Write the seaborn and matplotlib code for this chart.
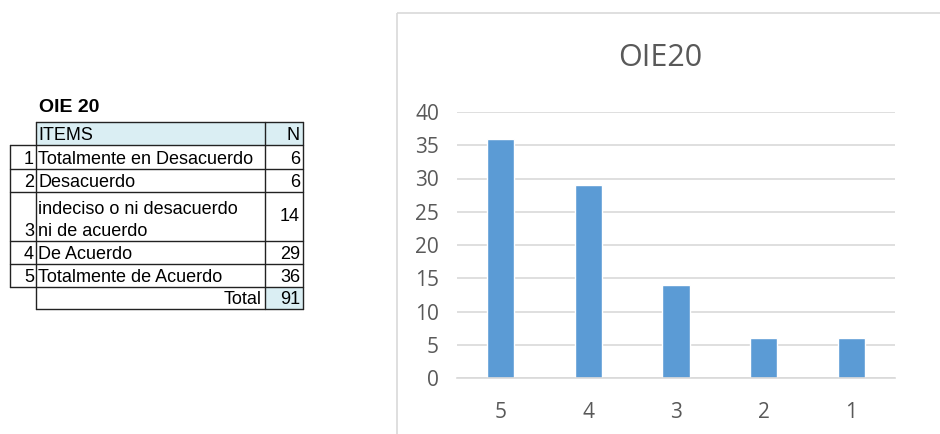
import matplotlib
matplotlib.use("Agg")
import matplotlib.pyplot as plt
import matplotlib.patches as mpatches
import pandas as pd
import seaborn as sns

# ---- data ----
item_nums = ["1", "2", "3", "4", "5"]
item_labels = [
    "Totalmente en Desacuerdo",
    "Desacuerdo",
    "indeciso o ni desacuerdo\nni de acuerdo",
    "De Acuerdo",
    "Totalmente de Acuerdo",
]
item_counts = [6, 6, 14, 29, 36]
total = 91
bar_order = ["5", "4", "3", "2", "1"]
y_ticks = [0, 5, 10, 15, 20, 25, 30, 35, 40]

sns.set_theme(style="white")
plt.rcParams["font.family"] = ["Liberation Sans", "DejaVu Sans"]

W, H = 940, 434
fig = plt.figure(figsize=(W / 100, H / 100), dpi=100)
fig.patch.set_facecolor("white")

# ---- overlay axis in pixel coordinates (table + chart frame) ----
ov = fig.add_axes([0, 0, 1, 1])
ov.set_xlim(0, W)
ov.set_ylim(H, 0)
ov.axis("off")

# chart frame
ov.add_patch(mpatches.Rectangle((397, 13), 560, 440, fill=False,
                                edgecolor="#D9D9D9", linewidth=1.2))

# table
ov.text(39, 107, "OIE 20", fontsize=14, fontweight="bold", va="center", ha="left",
        color="black")
x_num, x_item, x_n, x_end = 10, 36, 265, 303
row_edges = [122, 145, 169, 192, 241, 264, 287, 309]
hdr = "#DAEEF3"
ov.add_patch(mpatches.Rectangle((x_item, row_edges[0]), x_end - x_item,
                                row_edges[1] - row_edges[0], facecolor=hdr, edgecolor="none"))
ov.add_patch(mpatches.Rectangle((x_n, row_edges[-2]), x_end - x_n,
                                row_edges[-1] - row_edges[-2], facecolor=hdr, edgecolor="none"))
lc, lw = "#222222", 1.0
# horizontal lines
ov.plot([x_item, x_end], [row_edges[0]] * 2, color=lc, lw=lw)
for y in row_edges[1:-2]:
    ov.plot([x_num, x_end], [y, y], color=lc, lw=lw)
ov.plot([x_num, x_end], [row_edges[-2]] * 2, color=lc, lw=lw)
ov.plot([x_item, x_end], [row_edges[-1]] * 2, color=lc, lw=lw)
# vertical lines
ov.plot([x_num, x_num], [row_edges[1], row_edges[-2]], color=lc, lw=lw)
for x in (x_item, x_n, x_end):
    ov.plot([x, x], [row_edges[0], row_edges[-1]], color=lc, lw=lw)

fs = 13
tc = "black"
ov.text(x_item + 2, row_edges[1] - 1, "ITEMS", fontsize=fs, va="bottom", color=tc)
ov.text(x_end - 10, row_edges[1] - 1, "N", fontsize=fs, va="bottom", ha="center", color=tc)
for i, (num, lab, cnt) in enumerate(zip(item_nums, item_labels, item_counts)):
    top, bot = row_edges[i + 1], row_edges[i + 2]
    ov.text(x_item - 2, bot - 1, num, fontsize=fs, ha="right", va="bottom", color=tc)
    if "\n" in lab:
        ov.text(x_item + 2, bot - 1, lab, fontsize=fs, va="bottom", linespacing=1.35, color=tc)
        ov.text(x_end - 3, (top + bot) / 2, str(cnt), fontsize=fs, ha="right", va="center", color=tc)
    else:
        ov.text(x_item + 2, bot - 1, lab, fontsize=fs, va="bottom", color=tc)
        ov.text(x_end - 3, bot - 1, str(cnt), fontsize=fs, ha="right", va="bottom", color=tc)
ov.text(x_n - 3, row_edges[-1] - 1, "Total", fontsize=fs, ha="right", va="bottom", color=tc)
ov.text(x_end - 3, row_edges[-1] - 1, str(total), fontsize=fs, ha="right", va="bottom", color=tc)

# ---- bar chart ----
df = pd.DataFrame({"item": item_nums, "n": item_counts})
ax = fig.add_axes([457 / W, 1 - 378 / H, (895 - 457) / W, (378 - 112) / H])
sns.barplot(data=df, x="item", y="n", order=bar_order, color="#5B9BD5",
            saturation=1, width=0.31, ax=ax)
ax.set_ylim(0, 40)
ax.set_yticks(y_ticks)
ax.yaxis.grid(True, color="#D9D9D9", linewidth=1.2)
ax.set_axisbelow(True)
for s in ("top", "right", "left"):
    ax.spines[s].set_visible(False)
ax.spines["bottom"].set_color("#D9D9D9")
ax.spines["bottom"].set_linewidth(1.2)
ax.set_facecolor("none")
ax.set_xlabel("")
ax.set_ylabel("")
ax.tick_params(axis="both", length=0, labelsize=15, labelcolor="#595959")
ax.tick_params(axis="x", pad=17)
ax.tick_params(axis="y", pad=13)
for t in ax.get_xticklabels() + ax.get_yticklabels():
    t.set_family(["Open Sans", "DejaVu Sans"])

fig.text(660 / W, 1 - 58 / H, "OIE20", fontsize=22, color="#595959",
         ha="center", va="center", family=["Open Sans", "DejaVu Sans"])

fig.savefig("out.png", dpi=100, facecolor="white")
